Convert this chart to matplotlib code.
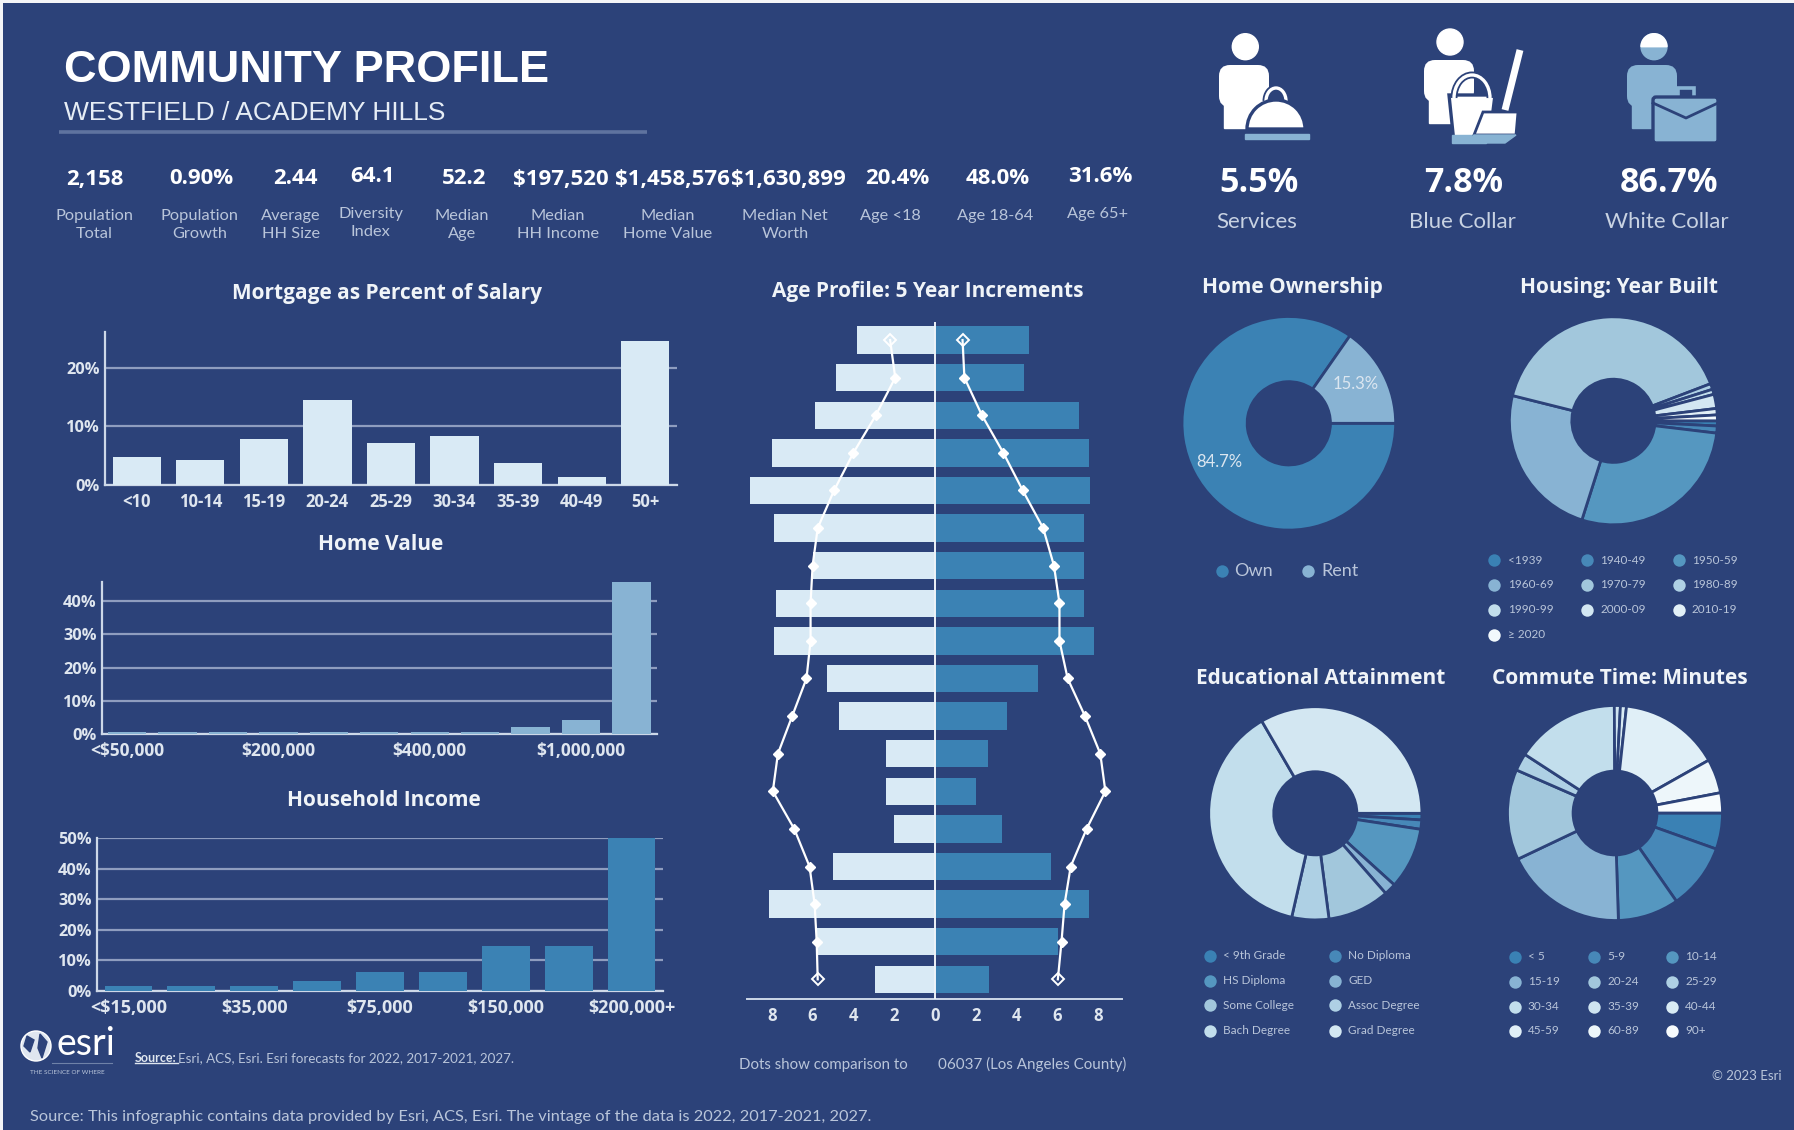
import matplotlib
matplotlib.use('Agg')
import matplotlib.pyplot as plt
import numpy as np
from matplotlib.patches import Rectangle, Circle, Wedge, Arc, Polygon, FancyBboxPatch

W, H = 1794, 1130
BG = '#2c4279'
GRID = '#8f9dbf'
SPINE = '#cdd8e8'
TXT = '#dfe6ef'
DIM = '#b9c5da'
LIGHT = '#d9eaf5'
MID = '#3b82b4'
PALE = '#88b3d3'

plt.rcParams['font.family'] = ['Lato', 'DejaVu Sans']

# header numbers
kpi_values = ['2,158', '0.90%', '2.44', '64.1', '52.2', '$197,520', '$1,458,576',
              '$1,630,899', '20.4%', '48.0%', '31.6%']
kpi_labels = ['Population\nTotal', 'Population\nGrowth', 'Average\nHH Size',
              'Diversity\nIndex', 'Median\nAge', 'Median\nHH Income',
              'Median\nHome Value', 'Median Net\nWorth', 'Age <18', 'Age 18-64',
              'Age 65+']
job_values = ['5.5%', '7.8%', '86.7%']
job_labels = ['Services', 'Blue Collar', 'White Collar']

# bar charts
mortgage_cats = ['<10', '10-14', '15-19', '20-24', '25-29', '30-34', '35-39', '40-49', '50+']
mortgage_vals = [4.7, 4.3, 7.9, 14.5, 7.1, 8.3, 3.8, 1.4, 24.5]
home_ticks = ['<$50,000', '', '', '$200,000', '', '', '$400,000', '', '', '$1,000,000', '']
home_vals = [0.7, 0.7, 0.7, 0.7, 0.7, 0.7, 0.7, 0.7, 2.2, 4.2, 45.9]
income_ticks = ['<$15,000', '', '$35,000', '', '$75,000', '', '$150,000', '', '$200,000+']
income_vals = [1.7, 1.7, 1.7, 3.3, 6.2, 6.2, 14.8, 14.8, 50.0]

# age pyramid, youngest row last
age_left = [3.8, 4.85, 5.9, 8.0, 9.06, 7.87, 6.0, 7.77, 7.87, 5.3, 4.7, 2.38, 2.38, 2.0,
            5.0, 8.13, 5.85, 2.95]
age_right = [4.6, 4.36, 7.07, 7.53, 7.62, 7.31, 7.3, 7.3, 7.79, 5.06, 3.54, 2.6, 2.0, 3.3,
             5.7, 7.53, 6.04, 2.66]
dots_left = [2.2, 1.95, 2.9, 4.0, 4.95, 5.75, 6.0, 6.1, 6.1, 6.3, 7.0, 7.7, 7.95, 6.9,
             6.15, 5.9, 5.8, 5.75]
dots_right = [1.35, 1.44, 2.3, 3.35, 4.3, 5.3, 5.83, 6.1, 6.1, 6.5, 7.35, 8.1, 8.35, 7.43,
              6.65, 6.35, 6.2, 6.02]
age_ticks = [-8, -6, -4, -2, 0, 2, 4, 6, 8]

# donuts
own_labels = ['Own', 'Rent']
own_vals = [84.7, 15.3]
year_labels = ['<1939', '1940-49', '1950-59', '1960-69', '1970-79', '1980-89', '1990-99',
               '2000-09', '2010-19', '≥ 2020']
year_vals = [0.8, 1.1, 28.0, 24.0, 40.3, 0.9, 0.8, 2.2, 1.0, 0.9]
edu_labels = ['< 9th Grade', 'No Diploma', 'HS Diploma', 'GED', 'Some College',
              'Assoc Degree', 'Bach Degree', 'Grad Degree']
edu_vals = [1.0, 1.4, 9.3, 1.8, 9.4, 5.6, 38.0, 33.3]
commute_labels = ['< 5', '5-9', '10-14', '15-19', '20-24', '25-29', '30-34', '35-39',
                  '40-44', '45-59', '60-89', '90+']
commute_vals = [5.4, 9.8, 9.1, 18.3, 13.5, 2.6, 15.6, 0.9, 0.9, 15.0, 5.1, 3.0]

own_colors = [MID, PALE]
year_colors = ['#3a81b4', '#4788b8', '#5597c0', '#88b3d3', '#a2c7dc', '#aed0e4', '#c2deec',
               '#d3e7f2', '#e2f0f7', '#f2f9fc']
edu_colors = ['#3a81b4', '#4788b8', '#5597c0', '#88b3d3', '#a2c7dc', '#aed0e4', '#c2deec',
              '#d3e7f2']
commute_colors = ['#3a81b4', '#4788b8', '#5597c0', '#88b3d3', '#a2c7dc', '#aed0e4', '#c2deec',
                  '#cfe4f0', '#d9ebf4', '#e0eff7', '#edf6fa', '#f7fbfd']


def px_axes(left, top, right, bottom, **kw):
    return fig.add_axes([left / W, 1 - bottom / H, (right - left) / W, (bottom - top) / H], **kw)


def bar_panel(box, vals, labels, color, ymax, yticks, fs):
    ax = px_axes(*box, facecolor='none')
    ax.bar(range(len(vals)), vals, width=0.76, color=color, zorder=3)
    ax.set_xlim(-0.5, len(vals) - 0.5)
    ax.set_ylim(0, ymax)
    ax.set_xticks(range(len(vals)))
    ax.set_xticklabels(labels, fontsize=fs, fontweight='bold', color=TXT, family='Open Sans')
    ax.set_yticks(yticks)
    ax.set_yticklabels(['%d%%' % t for t in yticks], fontsize=11.8, fontweight='bold', color=TXT,
                       family='Open Sans')
    ax.tick_params(axis='x', length=0, pad=6)
    ax.tick_params(axis='y', length=0, pad=4)
    ax.grid(axis='y', color=GRID, lw=1.6, zorder=1)
    ax.set_axisbelow(True)
    for s in ['top', 'right']:
        ax.spines[s].set_visible(False)
    for s in ['left', 'bottom']:
        ax.spines[s].set_color(SPINE)
        ax.spines[s].set_linewidth(1.6)
    return ax


def donut(cx, cy, r, vals, colors, inner=0.39, lw=2.0):
    ax = px_axes(cx - r - 2, cy - r - 2, cx + r + 2, cy + r + 2, facecolor='none')
    ax.pie(vals, colors=colors, startangle=0, counterclock=False, radius=1,
           wedgeprops=dict(width=1 - inner, edgecolor=BG, linewidth=lw))
    lim = (r + 2) / r
    ax.set_xlim(-lim, lim)
    ax.set_ylim(-lim, lim)
    return ax


def dot_legend(labels, colors, xs, text_xs, ys, fs=8.5):
    n = len(xs)
    for i, lab in enumerate(labels):
        col, row = i % n, i // n
        ov.scatter(xs[col], ys[row], s=80, color=colors[i], linewidths=0)
        ov.text(text_xs[col], ys[row], lab, color=DIM, fontsize=fs, va='center', ha='left')


fig = plt.figure(figsize=(W / 100, H / 100), dpi=100, facecolor='#f4f5f7')
fig.patches.append(Rectangle((3 / W, 0), 1 - 3 / W, 1 - 3 / H, transform=fig.transFigure,
                             facecolor=BG, edgecolor='none', zorder=-1))

bar_panel((105, 331.7, 677, 485), mortgage_vals, mortgage_cats, LIGHT, 26.1, [0, 10, 20], 12)
bar_panel((102, 581.7, 656.6, 734), home_vals, home_ticks, PALE, 45.9, [0, 10, 20, 30, 40], 12.5)
bar_panel((97, 838, 663, 990.7), income_vals, income_ticks, MID, 50, [0, 10, 20, 30, 40, 50], 13)

# pyramid
ax = px_axes(746.7, 322, 1121.7, 998.5, facecolor='none')
rows = np.arange(len(age_left))
ax.barh(rows, -np.array(age_left), height=0.73, color=LIGHT, zorder=2)
ax.barh(rows, age_right, height=0.73, color=MID, zorder=2)
ax.axvline(0, color='#eef3f8', lw=1.4, zorder=3)
for d in (-np.array(dots_left), np.array(dots_right)):
    ax.plot(d, rows, '-', color='white', lw=1.6, zorder=4)
    ax.plot(d[1:-1], rows[1:-1], 'D', color='white', ms=5.5, zorder=5)
    ax.plot(d[[0, -1]], rows[[0, -1]], 'D', mfc='none', mec='white', mew=1.4, ms=6, zorder=5)
ax.set_xlim(-9.23, 9.15)
ax.set_ylim(17.51, -0.48)
ax.set_yticks([])
ax.set_xticks(age_ticks)
ax.set_xticklabels([str(abs(t)) for t in age_ticks], fontsize=12, fontweight='bold', color=TXT,
                   family='Open Sans')
ax.tick_params(axis='x', length=0, pad=6)
for s in ['top', 'left', 'right']:
    ax.spines[s].set_visible(False)
ax.spines['bottom'].set_color(SPINE)
ax.spines['bottom'].set_linewidth(1.4)

donut(1288.8, 423.3, 106.8, own_vals, own_colors)
donut(1613.4, 420.8, 104, year_vals, year_colors, inner=0.4)
donut(1315.3, 813.3, 106.6, edu_vals, edu_colors)
donut(1615, 813, 107.5, commute_vals, commute_colors)

# everything else goes on a pixel overlay
ov = fig.add_axes([0, 0, 1, 1], facecolor='none', zorder=10)
ov.set_xlim(0, W)
ov.set_ylim(H, 0)
ov.axis('off')

ov.text(64, 71, 'COMMUNITY PROFILE', color='white', fontsize=32.5, fontweight='bold',
        family='Liberation Sans', va='center')
ov.text(64, 113, 'WESTFIELD / ACADEMY HILLS', color='#e6edf5', fontsize=19,
        family='Liberation Sans', va='center')
ov.plot([59, 647], [132, 132], color='#5f739f', lw=2.6, solid_capstyle='butt')

kpi_x = [94.6, 201.8, 295.7, 372.7, 464.4, 561, 672.8, 788.7, 897, 997.8, 1100.5]
kpi_y = [179, 179, 179, 177, 179, 179, 179, 179, 179, 179, 177]
lab_x = [94.6, 199.6, 291, 370.5, 462, 557.6, 668, 785, 890, 995.6, 1098]
lab_y = [225, 225, 225, 223, 225, 225, 225, 225, 216, 216, 214]
for i in range(len(kpi_values)):
    ov.text(kpi_x[i], kpi_y[i], kpi_values[i], color='white', fontsize=16, fontweight='bold',
            family='Open Sans', ha='center', va='center')
    ov.text(lab_x[i], lab_y[i], kpi_labels[i], color=DIM, fontsize=11.8, ha='center', va='center',
            linespacing=1.3)

for x, v, x2, l in zip([1258.8, 1464, 1668.7], job_values, [1256.8, 1462, 1666.6], job_labels):
    ov.text(x, 183, v, color='white', fontsize=24.5, fontweight='bold', family='Open Sans',
            ha='center', va='center')
    ov.text(x2, 222, l, color='#c8d2e2', fontsize=16, ha='center', va='center')

titles = [('Mortgage as Percent of Salary', 386.6, 294), ('Home Value', 381, 544),
          ('Household Income', 383.4, 801), ('Age Profile: 5 Year Increments', 928, 291),
          ('Home Ownership', 1292.5, 288), ('Housing: Year Built', 1619, 288),
          ('Educational Attainment', 1321, 678), ('Commute Time: Minutes', 1619.4, 678)]
for t, x, y in titles:
    ov.text(x, y, t, color='#f0f4f8', fontsize=15, fontweight='bold', family='Open Sans',
            ha='center', va='center')

ov.text(1355.3, 384, '15.3%', color='#dbe6f0', fontsize=12, ha='center', va='center')
ov.text(1219.8, 461.7, '84.7%', color='#dbe6f0', fontsize=12, ha='center', va='center')

dot_legend(own_labels, own_colors, [1221.9, 1308], [1234, 1321.7], [571], fs=13)
dot_legend(year_labels, year_colors, [1494, 1586.5, 1679], [1508, 1600.5, 1692],
           [560.3, 585, 609.7, 635])
dot_legend(edu_labels, edu_colors, [1210.4, 1334.8], [1223, 1348.4],
           [955.7, 980.7, 1005.3, 1030.7])
dot_legend(commute_labels, commute_colors, [1515, 1593.5, 1672], [1527.8, 1607, 1685],
           [956.7, 981.7, 1006.7, 1030.7])

# footer
ov.text(739, 1065, 'Dots show comparison to', color=DIM, fontsize=10.8, va='center')
ov.text(938, 1064, '06037 (Los Angeles County)', color=DIM, fontsize=10.9, va='center')
ov.text(1782, 1076, '© 2023 Esri', color=DIM, fontsize=9.5, ha='right', va='center')
ov.text(134.5, 1057.7, 'Source:', color=TXT, fontsize=9, fontweight='bold', va='center')
ov.plot([134.5, 178], [1063, 1063], color=TXT, lw=1)
ov.text(178, 1057.7, 'Esri, ACS, Esri. Esri forecasts for 2022, 2017-2021, 2027.', color=DIM,
        fontsize=9.6, va='center')
ov.text(30, 1116.7, 'Source: This infographic contains data provided by Esri, ACS, Esri. '
        'The vintage of the data is 2022, 2017-2021, 2027.', color=DIM, fontsize=11.8, va='center')

# esri logo
ov.add_patch(Circle((36, 1046), 15, facecolor='#dfe6ef', edgecolor='white', lw=1))
ov.add_patch(Polygon([[27, 1036], [34, 1040], [30, 1052], [24, 1046]], color=BG))
ov.add_patch(Polygon([[40, 1034], [47, 1042], [42, 1058], [38, 1048]], color=BG))
ov.text(57, 1044, 'esri', color='white', fontsize=27, va='center')
ov.plot([52, 112], [1063, 1063], color='#6f82a8', lw=0.8)
ov.text(67, 1072, 'THE SCIENCE OF WHERE', color=DIM, fontsize=4.6, ha='center', va='center')


def person(x0, y0, color):
    # torso, then a narrower lower body
    ov.add_patch(FancyBboxPatch((x0 + 4, y0 + 4), 42, 34, boxstyle='round,pad=4,rounding_size=11',
                                facecolor=color, edgecolor='none'))
    ov.add_patch(Rectangle((x0 + 5, y0 + 30), 36, 33, color=color))


# services icon
ov.add_patch(Circle((1245.3, 46.7), 13, color='white'))
person(1219, 65, 'white')
ov.add_patch(Arc((1276, 101), 20, 26, theta1=180, theta2=360, color=BG, lw=5))
ov.add_patch(Arc((1276, 101), 20, 26, theta1=180, theta2=360, color='white', lw=2.4))
ov.add_patch(Wedge((1276, 129), 29, 180, 360, facecolor='white', edgecolor=BG, lw=2.4))
ov.add_patch(Rectangle((1244.5, 134), 64.5, 5, color=PALE))

# blue collar icon
ov.add_patch(Circle((1450, 42), 13, color='white'))
person(1424, 60, 'white')
ov.add_patch(Polygon([[1449, 95], [1495, 95], [1489, 143], [1454, 143]], facecolor='white',
                     edgecolor=BG, lw=2.4))
ov.add_patch(Arc((1472, 98), 36, 46, theta1=180, theta2=360, color=BG, lw=5))
ov.add_patch(Arc((1472, 98), 36, 46, theta1=180, theta2=360, color='white', lw=2.4))
ov.add_patch(Rectangle((1452, 135), 34, 8, color=PALE))
ov.plot([1520, 1505], [50, 110], color='white', lw=5, solid_capstyle='butt')
ov.add_patch(Polygon([[1483, 112], [1518, 112], [1516, 135], [1474, 135]], facecolor='white',
                     edgecolor=BG, lw=2))
ov.add_patch(Polygon([[1474, 135], [1516, 135], [1505, 143], [1465, 143]], color=PALE))

# white collar icon
ov.add_patch(Circle((1654, 46.7), 13, color=PALE))
ov.add_patch(Wedge((1654, 46.7), 13, 180, 360, color='white'))
person(1627, 65, PALE)
ov.add_patch(Rectangle((1678, 88), 16, 12, facecolor='none', edgecolor=PALE, lw=2.6))
ov.add_patch(FancyBboxPatch((1655, 99), 61, 42, boxstyle='round,pad=2,rounding_size=3',
                            facecolor=PALE, edgecolor=BG, lw=2.4))
ov.plot([1653, 1686, 1718], [103, 118, 103], color=BG, lw=2)

fig.savefig('out.png', dpi=100, facecolor=fig.get_facecolor())
